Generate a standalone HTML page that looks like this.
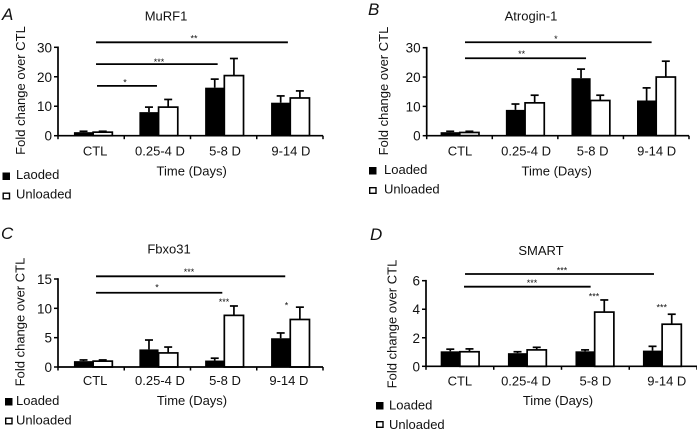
<!DOCTYPE html>
<html>
<head>
<meta charset="utf-8">
<style>
html,body{margin:0;padding:0;background:#fff;}
svg{display:block;filter:blur(0.35px);}
text{font-family:"Liberation Sans",sans-serif;fill:#111;}
</style>
</head>
<body>
<svg id="fig" width="697" height="432" viewBox="0 0 697 432" xmlns="http://www.w3.org/2000/svg"></svg>
<script>
// Shared categories
var categories = ["CTL", "0.25-4 D", "5-8 D", "9-14 D"];

// Panel A: MuRF1
var murf1Loaded = [1.2, 8, 16.3, 11.2];
var murf1LoadedErr = [0.3, 1.7, 2.9, 2.3];
var murf1Unloaded = [1.2, 9.7, 20.4, 12.8];
var murf1UnloadedErr = [0.3, 2.6, 5.8, 2.4];
var murf1Ticks = [0, 10, 20, 30];

// Panel B: Atrogin-1
var atroginLoaded = [1.2, 8.8, 19.6, 12];
var atroginLoadedErr = [0.3, 2, 3.1, 4.3];
var atroginUnloaded = [1.1, 11.2, 12, 20];
var atroginUnloadedErr = [0.4, 2.6, 1.8, 5.4];
var atroginTicks = [0, 10, 20, 30];

// Panel C: Fbxo31
var fbxoLoaded = [1, 3, 1.1, 4.9];
var fbxoLoadedErr = [0.2, 1.6, 0.4, 0.9];
var fbxoUnloaded = [1, 2.4, 8.8, 8.1];
var fbxoUnloadedErr = [0.2, 1, 1.6, 2.1];
var fbxoTicks = [0, 5, 10, 15];

// Panel D: SMART
var smartLoaded = [1.05, 0.92, 1.05, 1.1];
var smartLoadedErr = [0.15, 0.1, 0.1, 0.3];
var smartUnloaded = [1.02, 1.15, 3.8, 2.95];
var smartUnloadedErr = [0.2, 0.18, 0.85, 0.7];
var smartTicks = [0, 2, 4, 6];

// Significance brackets: start category, end category, value level
var murf1Sig = [[0.074, 2.97, 31.7], [0.074, 1.91, 24.3], [0.089, 0.994, 16.9]];
var atroginSig = [[0.084, 2.93, 31.85], [0.084, 1.93, 26.4]];
var fbxoSig = [[0.074, 2.93, 15.46], [0.074, 1.98, 12.66]];
var smartSig = [[0.076, 2.865, 6.47], [0.061, 1.93, 5.58]];

// Star annotations: label, category, value level
var murf1Stars = [["**", 1.553, 31.9], ["***", 1.025, 24], ["*", 0.511, 17]];
var atroginStars = [["*", 1.47, 32], ["**", 0.948, 26.9]];
var fbxoStars = [["***", 1.477, 15.7], ["*", 0.994, 13.07], ["***", 2.006, 10.6], ["*", 2.95, 9.94]];
var smartStars = [["***", 1.507, 6.49], ["***", 1.065, 5.63], ["***", 1.98, 4.67], ["***", 2.98, 3.9]];

var panels = [
  {id:"a", letter:"A", title:"MuRF1", legend1:"Laoded", loaded:murf1Loaded, loadedErr:murf1LoadedErr, unloaded:murf1Unloaded, unloadedErr:murf1UnloadedErr, ticks:murf1Ticks, sig:murf1Sig, stars:murf1Stars,
   left:58, right:323, base:135.7, top:47.3, letterX:2, letterY:20, titleX:166, titleY:20.7, yTitleX:25, yTitleY:90.5, labY:155.7, labShift:[4,2.6,1.4,1], barShift:[2,1.2,0.7,0.4], timeX:191.7, timeY:175.7,
   sw:[2.5,172.5,2.5,192.5], legX:16, legY:[179,198.7]},
  {id:"b", letter:"B", title:"Atrogin-1", legend1:"Loaded", loaded:atroginLoaded, loadedErr:atroginLoadedErr, unloaded:atroginUnloaded, unloadedErr:atroginUnloadedErr, ticks:atroginTicks, sig:atroginSig, stars:atroginStars,
   left:426.7, right:689, base:135.7, top:47.7, letterX:368, letterY:15, titleX:531, titleY:20.5, yTitleX:388, yTitleY:91, labY:155.7, labShift:[0.5,1,2,0.4], barShift:[0.3,0,0,0], timeX:556.7, timeY:175.7,
   sw:[369,167,369,187], legX:384, legY:[174,193.7]},
  {id:"c", letter:"C", title:"Fbxo31", legend1:"Loaded", loaded:fbxoLoaded, loadedErr:fbxoLoadedErr, unloaded:fbxoUnloaded, unloadedErr:fbxoUnloadedErr, ticks:fbxoTicks, sig:fbxoSig, stars:fbxoStars,
   left:58, right:323, base:367, top:279, letterX:1, letterY:239, titleX:169, titleY:253.7, yTitleX:24.5, yTitleY:322, labY:385, labShift:[4,2.6,1.4,-1], barShift:[2,1.2,0.7,0.4], timeX:192, timeY:405,
   sw:[5,398,5,417.5], legX:16, legY:[405,424.7]},
  {id:"d", letter:"D", title:"SMART", legend1:"Loaded", loaded:smartLoaded, loadedErr:smartLoadedErr, unloaded:smartUnloaded, unloadedErr:smartUnloadedErr, ticks:smartTicks, sig:smartSig, stars:smartStars,
   left:426, right:697, base:366.3, top:280.7, letterX:370, letterY:240, titleX:541, titleY:255, yTitleX:396.7, yTitleY:324, labY:385.3, labShift:[0,-1.6,0,3.7], barShift:[0,-0.5,-0.7,-1], timeX:558, timeY:405,
   sw:[376,402,376,421], legX:389, legY:[409.7,429]}
];

var NS = "http://www.w3.org/2000/svg";
var fig = document.getElementById("fig");

function make(parent, tag, props, content) {
  var el = document.createElementNS(NS, tag);
  for (var k in props) { el.setAttribute(k, props[k]); }
  if (content !== undefined) { el.textContent = content; }
  parent.appendChild(el);
  return el;
}
function line(parent, x1, y1, x2, y2, w) {
  return make(parent, "line", {x1:x1, y1:y1, x2:x2, y2:y2, stroke:"#000", "stroke-width":w});
}
function label(parent, x, y, str, size, anchor) {
  return make(parent, "text", {x:x, y:y, "font-size":size, "text-anchor":anchor}, str);
}

panels.forEach(function (p) {
  var g = make(fig, "g", {});
  
  

  var maxTick = p.ticks[p.ticks.length - 1];
  var yScale = function (v) { return p.base - (v / maxTick) * (p.base - p.top); };
  var step = (p.right - p.left) / categories.length;
  var xScale = function (c) { return p.left + step * (c + 0.5); };
  var barW = 19.2;

  var letter = label(g, p.letterX, p.letterY, p.letter, 17, "start");
  letter.setAttribute('font-style', 'italic');
  
  

  var title = label(g, p.titleX, p.titleY, p.title, 13, "middle");
  
  

  var yTitle = label(g, 0, 0, "Fold change over CTL", 13, "middle");
  yTitle.setAttribute('transform', 'translate(' + p.yTitleX + ',' + p.yTitleY + ') rotate(-90)');
  
  

  var xTitle = label(g, p.timeX, p.timeY, "Time (Days)", 13, "middle");
  
  

  categories.forEach(function (cat, i) {
    var cx = xScale(i) + p.barShift[i];
    var lv = p.loaded[i], le = p.loadedErr[i], uv = p.unloaded[i], ue = p.unloadedErr[i];

    var e1 = line(g, cx - barW / 2, yScale(lv), cx - barW / 2, yScale(lv + le), 1.7);
    
    
    var c1 = line(g, cx - barW / 2 - 4, yScale(lv + le), cx - barW / 2 + 4, yScale(lv + le), 1.7);
    
    

    var e2 = line(g, cx + barW / 2, yScale(uv), cx + barW / 2, yScale(uv + ue), 1.7);
    
    
    var c2 = line(g, cx + barW / 2 - 4, yScale(uv + ue), cx + barW / 2 + 4, yScale(uv + ue), 1.7);
    
    

    var b1 = make(g, "rect", {x:cx - barW, y:yScale(lv), width:barW, height:p.base - yScale(lv), fill:"#000"});
    
    
    var b2 = make(g, "rect", {x:cx, y:yScale(uv), width:barW, height:p.base - yScale(uv), fill:"#fff", stroke:"#000", "stroke-width":1.7});
    
    

    var lab = label(g, xScale(i) + p.labShift[i], p.labY, cat, 13, "middle");
    
    
  });

  var xAxis = line(g, p.left, p.base, p.right, p.base, 1.7);
  
  
  var yAxis = line(g, p.left, p.base + 0.8, p.left, p.top - 0.8, 1.7);
  
  

  for (var t = 0; t <= categories.length; t++) {
    var tx = p.left + step * t;
    var xt = line(g, tx, p.base, tx, p.base + 3.5, 1.5);
    
    
  }

  p.ticks.forEach(function (v) {
    var yt = line(g, p.left - 4, yScale(v), p.left, yScale(v), 1.5);
    
    
    var yl = label(g, p.left - 6, yScale(v) + 5, String(v), 13.5, "end");
    
    
  });

  p.sig.forEach(function (s) {
    var sl = line(g, xScale(s[0]), yScale(s[2]), xScale(s[1]), yScale(s[2]), 1.8);
    
    
  });

  p.stars.forEach(function (s) {
    var st = label(g, xScale(s[1]), yScale(s[2]), s[0], 9, "middle");
    
    
  });

  var s1 = make(g, "rect", {x:p.sw[0], y:p.sw[1], width:7.5, height:7.5, fill:"#000"});
  
  
  var l1 = label(g, p.legX, p.legY[0], p.legend1, 13, "start");
  
  
  var s2 = make(g, "rect", {x:p.sw[2] + 0.7, y:p.sw[3] + 0.7, width:6.3, height:5.6, fill:"#fff", stroke:"#000", "stroke-width":1.4});
  
  
  var l2 = label(g, p.legX, p.legY[1], "Unloaded", 13, "start");
  
  
});
</script>
</body>
</html>
